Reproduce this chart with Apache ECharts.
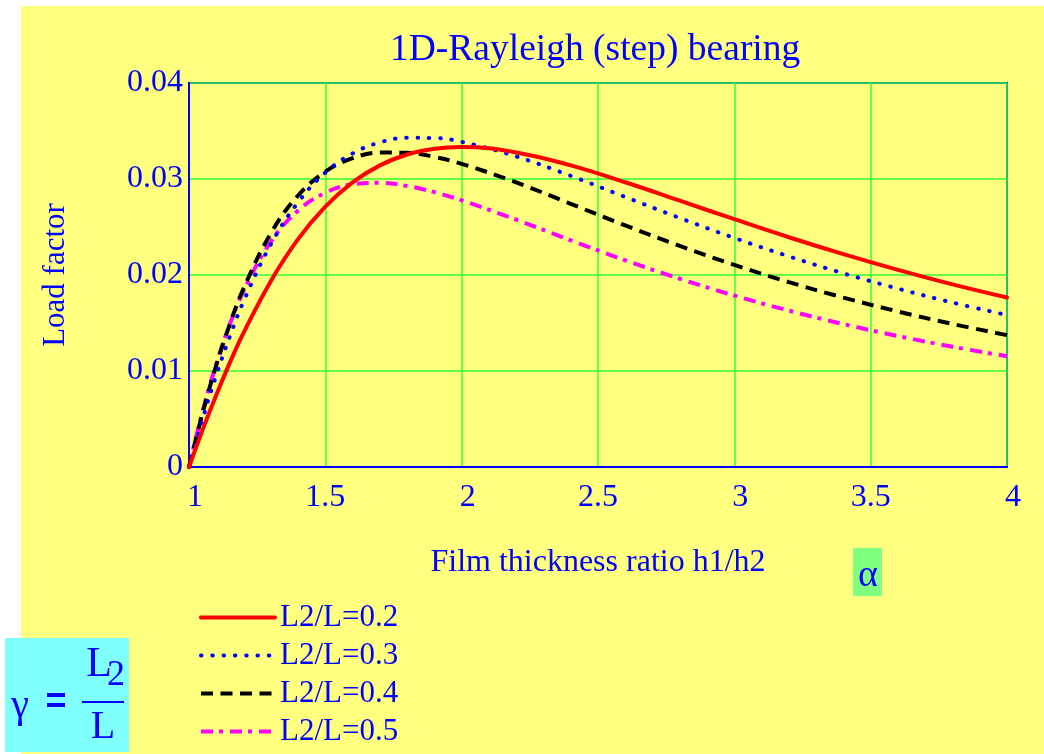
<!DOCTYPE html>
<html>
<head>
<meta charset="utf-8">
<script src="https://cdn.jsdelivr.net/npm/echarts@6/dist/echarts.min.js"></script>
<style>html,body{margin:0;padding:0;background:#fff}#c{width:1044px;height:754px}</style>
</head>
<body>
<div id="c"></div>
<script>
// Film thickness ratio h1/h2 (x values)
const ratios = [1, 1.05, 1.1, 1.15, 1.2, 1.3, 1.4, 1.5, 1.6, 1.7, 1.8, 1.9, 2.0, 2.2, 2.4, 2.6, 2.8, 3.0, 3.2, 3.4, 3.6, 3.8, 4.0];
// Load factor
const load02 = [0, 0.00388, 0.00750, 0.01087, 0.01397, 0.01936, 0.02373, 0.02712, 0.02964, 0.03142, 0.03255, 0.03315, 0.03333, 0.03277, 0.03142, 0.02966, 0.02774, 0.02581, 0.02393, 0.02217, 0.02053, 0.01902, 0.01765];
const load03 = [0, 0.00501, 0.00955, 0.01362, 0.01724, 0.02318, 0.02757, 0.03066, 0.03266, 0.03381, 0.03429, 0.03427, 0.03387, 0.03235, 0.03033, 0.02813, 0.02594, 0.02386, 0.02194, 0.02017, 0.01858, 0.01713, 0.01583];
const load04 = [0, 0.00564, 0.01060, 0.01490, 0.01859, 0.02434, 0.02828, 0.03077, 0.03217, 0.03275, 0.03273, 0.03230, 0.03158, 0.02964, 0.02741, 0.02516, 0.02303, 0.02105, 0.01926, 0.01765, 0.01620, 0.01490, 0.01374];
const load05 = [0, 0.00579, 0.01073, 0.01488, 0.01833, 0.02346, 0.02671, 0.02857, 0.02944, 0.02960, 0.02927, 0.02863, 0.02778, 0.02576, 0.02361, 0.02153, 0.01961, 0.01786, 0.01629, 0.01489, 0.01364, 0.01253, 0.01154];
const seriesNames = ['L2/L=0.2', 'L2/L=0.3', 'L2/L=0.4', 'L2/L=0.5'];
const xTicks = [1, 1.5, 2, 2.5, 3, 3.5, 4];
const yTicks = [0, 0.01, 0.02, 0.03, 0.04];

const serif = 'Liberation Serif';
const blue = '#0000ff';
const gridGreen = '#33ff33';
const zip = arr => ratios.map((r, i) => [r, arr[i]]);
const styles = [
  {color: '#ff0000', type: 'solid', cap: 'round'},
  {color: '#0000ff', type: [0.5, 10.8], cap: 'round'},
  {color: '#000000', type: [12, 7.5], cap: 'butt'},
  {color: '#ff00ff', type: [12, 6, 4, 7], cap: 'butt'}
];
const allData = [load02, load03, load04, load05];

const chart = echarts.init(document.getElementById('c'), null, {renderer: 'canvas'});
chart.setOption({
  backgroundColor: '#ffffff',
  animation: false,
  title: {
    text: '1D-Rayleigh (step) bearing',
    left: 385, top: 26,
    textStyle: {fontFamily: serif, fontWeight: 'normal', fontSize: 37.5, color: blue}
  },
  graphic: [
    {type: 'rect', z: -10, shape: {x: 21, y: 6, width: 1023, height: 748}, style: {fill: '#ffff80'}, silent: true},
    {type: 'rect', shape: {x: 853, y: 548, width: 29, height: 48}, style: {fill: '#80ff80'}},
    {type: 'text', x: 868, y: 576, style: {text: 'α', font: '38px "Liberation Serif"', fill: blue, align: 'center', verticalAlign: 'middle'}},
    {type: 'rect', shape: {x: 5, y: 638, width: 124, height: 114}, style: {fill: '#80ffff'}},
    {type: 'text', x: 20, y: 706, style: {text: 'γ', font: '40px "Liberation Serif"', fill: blue, align: 'center', verticalAlign: 'middle'}},
    {type: 'text', x: 56, y: 703, style: {text: '=', font: 'bold 36px "Liberation Sans"', fill: blue, align: 'center', verticalAlign: 'middle'}},
    {type: 'text', x: 99, y: 665, style: {text: 'L', font: '42px "Liberation Serif"', fill: blue, align: 'center', verticalAlign: 'middle'}},
    {type: 'text', x: 116, y: 676, style: {text: '2', font: '36px "Liberation Serif"', fill: blue, align: 'center', verticalAlign: 'middle'}},
    {type: 'line', shape: {x1: 82, y1: 702, x2: 124, y2: 702}, style: {stroke: blue, lineWidth: 2}},
    {type: 'text', x: 103, y: 727, style: {text: 'L', font: '40px "Liberation Serif"', fill: blue, align: 'center', verticalAlign: 'middle'}}
  ],
  legend: {
    orient: 'vertical',
    left: 194, top: 597,
    itemWidth: 74, itemHeight: 14, itemGap: 7,
    itemStyle: {opacity: 0},
    lineStyle: {width: 4},
    textStyle: {fontFamily: serif, fontSize: 31, color: blue, padding: [0, 0, 0, 0]},
    data: seriesNames
  },
  grid: {left: 189, right: 37, top: 83, bottom: 287, show: true, borderColor: blue, borderWidth: 2, backgroundColor: 'transparent'},
  xAxis: {
    type: 'value', min: 1, max: 4, interval: 0.5,
    name: 'Film thickness ratio h1/h2', nameLocation: 'middle', nameGap: 80,
    nameTextStyle: {fontFamily: serif, fontSize: 32, color: blue},
    axisLine: {show: true, lineStyle: {color: blue, width: 2}},
    axisTick: {show: false},
    axisLabel: {fontFamily: serif, fontSize: 32, color: blue, margin: 15,
      formatter: v => Number.isInteger(v) ? '{i|' + v + '}' : String(v),
      rich: {i: {fontFamily: serif, fontSize: 32, color: blue, padding: [0, 0, 0, 12]}}},
    splitLine: {show: true, lineStyle: {color: gridGreen, width: 1.5, opacity: 1}}
  },
  yAxis: {
    type: 'value', min: 0, max: 0.04, interval: 0.01,
    name: 'Load factor', nameLocation: 'middle', nameGap: 118,
    nameTextStyle: {fontFamily: serif, fontSize: 31, color: blue},
    axisLine: {show: true, lineStyle: {color: blue, width: 2}},
    axisTick: {show: false},
    axisLabel: {fontFamily: serif, fontSize: 32, color: blue, margin: 6,
      formatter: v => { const t = yTicks.find(y => Math.abs(y - v) < 1e-9); return t === undefined ? '' : String(t); }},
    splitLine: {show: true, lineStyle: {color: gridGreen, width: 1.5, opacity: 1}}
  },
  series: seriesNames.map((name, i) => ({
    name, type: 'line', data: zip(allData[i]), smooth: 0.4, symbol: 'none',
    clip: true,
    lineStyle: {color: styles[i].color, width: 4, type: styles[i].type, cap: styles[i].cap},
    itemStyle: {color: styles[i].color},
    z: 10 - i
  }))
});
</script>
</body>
</html>
